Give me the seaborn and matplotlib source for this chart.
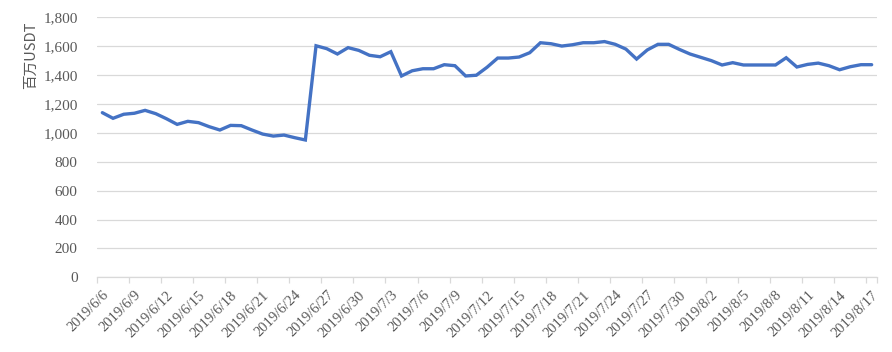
import matplotlib
matplotlib.use("Agg")
import matplotlib.pyplot as plt
import seaborn as sns
import pandas as pd
import numpy as np
from matplotlib.ticker import FixedLocator, FuncFormatter

start_date = "2019-06-06"
end_date = "2019-08-17"
values = [
    1140, 1101, 1129, 1136, 1156, 1133, 1098, 1059, 1080, 1071,
    1043, 1020, 1052, 1050, 1020, 992, 978, 985, 967, 951,
    1603, 1583, 1546, 1590, 1571, 1537, 1527, 1562, 1394, 1430,
    1444, 1444, 1472, 1465, 1394, 1399, 1454, 1518, 1518, 1525,
    1555, 1624, 1617, 1601, 1610, 1624, 1624, 1632, 1613, 1580,
    1511, 1574, 1613, 1613, 1578, 1546, 1523, 1500, 1470, 1486,
    1470, 1470, 1470, 1470, 1520, 1456, 1474, 1483, 1465, 1437,
    1458, 1472, 1472,
]
y_label = "百万USDT"
y_ticks = [0, 200, 400, 600, 800, 1000, 1200, 1400, 1600, 1800]

dates = pd.date_range(start_date, end_date, freq="D")
labels = [f"{d.year}/{d.month}/{d.day}" for d in dates]
df = pd.DataFrame({"idx": np.arange(len(values)), "value": values, "label": labels})

sns.set_theme(style="white")
plt.rcParams["font.family"] = ["Liberation Serif", "DejaVu Sans"]

fig = plt.figure(figsize=(8.92, 3.52), dpi=100)
ax = fig.add_axes([97 / 892, 1 - 277.4 / 352, (877 - 97) / 892, (277.4 - 17.3) / 352])

sns.lineplot(data=df, x="idx", y="value", ax=ax, color="#4472C4", linewidth=2.4,
             solid_joinstyle="miter")

ax.set_xlim(-0.5, len(values) - 0.5)
ax.set_ylim(0, 1800)
ax.set_yticks(y_ticks)
ax.yaxis.set_major_formatter(FuncFormatter(lambda v, p: f"{int(v):,}"))
ax.grid(axis="y", color="#D9D9D9", linewidth=0.9)
ax.set_axisbelow(True)

major = list(range(0, len(values), 3))
ax.set_xticks(major)
ax.set_xticklabels([labels[i] for i in major], rotation=45, ha="right",
                   rotation_mode="anchor", color="#595959", fontsize=10.5)
ax.xaxis.set_minor_locator(FixedLocator([m - 0.5 for m in major] + [len(values) - 0.5]))
ax.tick_params(axis="x", which="major", length=0, pad=8)
ax.tick_params(axis="x", which="minor", length=4, color="#D9D9D9", width=0.9, bottom=True)
ax.tick_params(axis="y", length=0, labelcolor="#595959", labelsize=11, pad=14)

for s in ["top", "right", "left"]:
    ax.spines[s].set_visible(False)
ax.spines["bottom"].set_color("#D9D9D9")
ax.spines["bottom"].set_linewidth(0.9)

ax.set_xlabel("")
ax.set_ylabel("")
fig.text(31 / 892, 1 - 55 / 352, y_label, rotation=90, ha="center", va="center",
         fontsize=10.5, color="#595959", family=["Noto Sans CJK JP", "DejaVu Sans"])

fig.savefig("out.png", dpi=100, facecolor="white")
